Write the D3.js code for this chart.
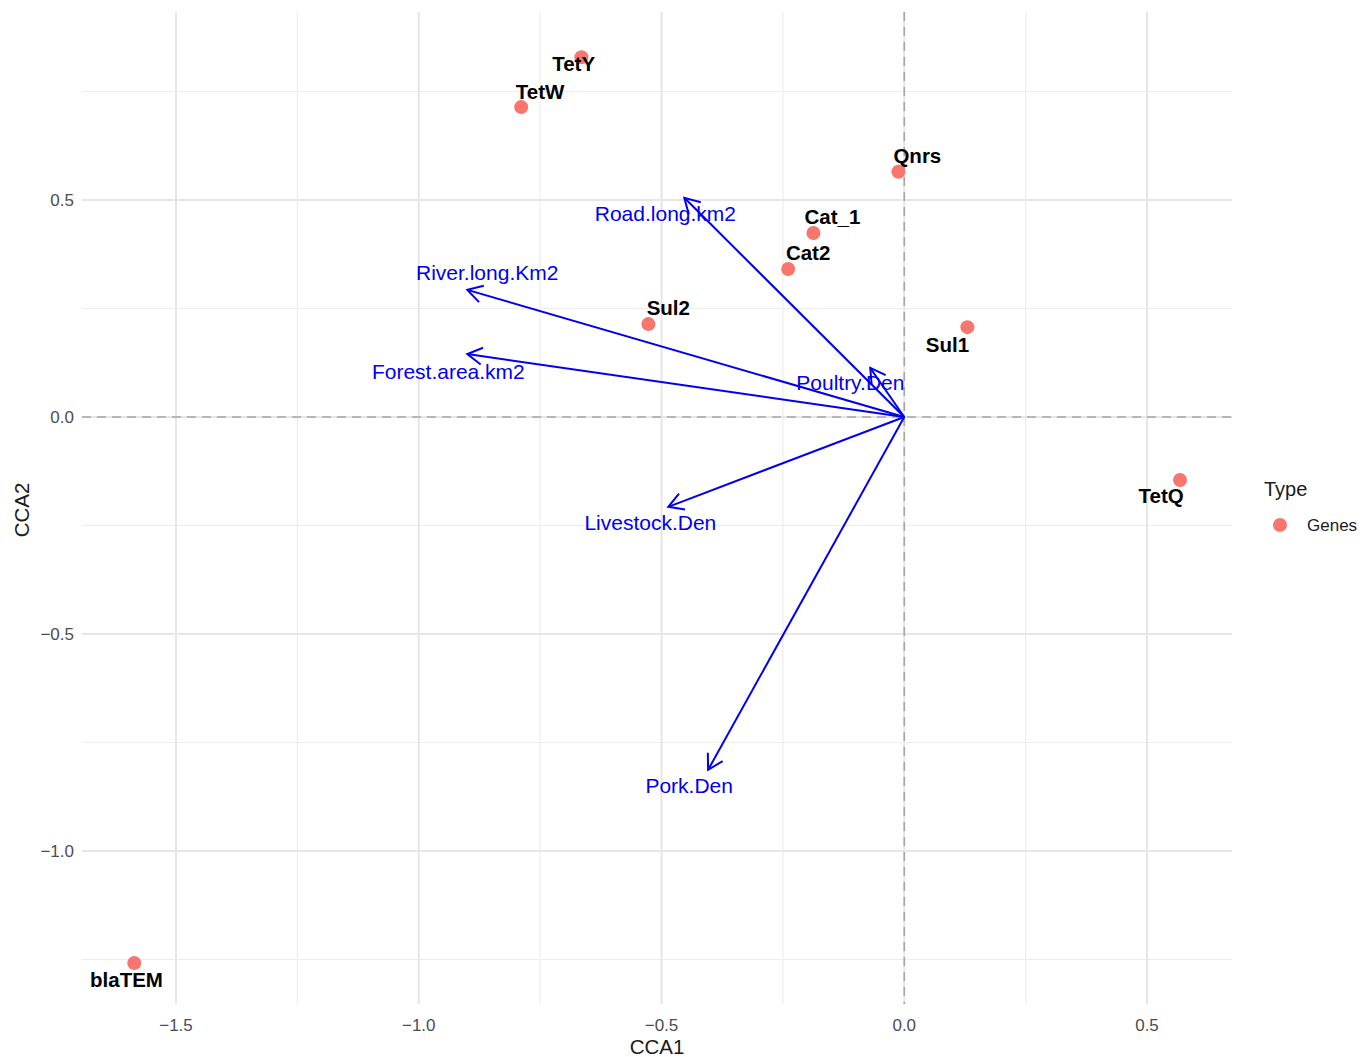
<!DOCTYPE html>
<html>
<head>
<meta charset="utf-8">
<script src="https://cdn.jsdelivr.net/npm/d3@7"></script>
<style>
  body { margin: 0; background: #fff; }
  text { font-family: "Liberation Sans", Arial, sans-serif; }
</style>
</head>
<body>
<svg id="chart" width="1370" height="1057"></svg>
<script>
"use strict";

// gene scores (CCA1, CCA2)
const genes = ['TetY', 'TetW', 'Qnrs', 'Cat_1', 'Cat2', 'Sul2', 'Sul1', 'TetQ', 'blaTEM'];
const geneCCA1 = [-0.665, -0.789, -0.012, -0.187, -0.239, -0.527, 0.130, 0.568, -1.586];
const geneCCA2 = [0.829, 0.714, 0.565, 0.424, 0.341, 0.214, 0.207, -0.145, -1.258];
// label nudges in data units (as ggplot nudge_x / nudge_y)
const geneNudgeX = [-0.016, 0.039, 0.039, 0.039, 0.041, 0.041, -0.041, -0.039, -0.016];
const geneNudgeY = [-0.016, 0.035, 0.037, 0.037, 0.037, 0.037, -0.041, -0.037, -0.039];

// environmental vectors
const envVars = ['Road.long.km2', 'River.long.Km2', 'Forest.area.km2', 'Poultry.Den', 'Livestock.Den', 'Pork.Den'];
const envCCA1 = [-0.453, -0.900, -0.900, -0.070, -0.486, -0.404];
const envCCA2 = [0.505, 0.293, 0.145, 0.113, -0.207, -0.813];
const envNudgeX = [-0.039, 0.041, -0.039, -0.041, -0.037, -0.039];
const envNudgeY = [-0.037, 0.039, -0.041, -0.035, -0.037, -0.037];

const xMajor = [-1.5, -1.0, -0.5, 0.0, 0.5];
const xMinor = [-1.25, -0.75, -0.25, 0.25];
const yMajor = [0.5, 0.0, -0.5, -1.0];
const yMinor = [0.75, 0.25, -0.25, -0.75, -1.25];

const svg = d3.select('#chart');
const panel = { left: 82, right: 1232, top: 12, bottom: 1004 };

const x = d3.scaleLinear().domain([-1.5, 0.5]).range([176, 1147]);
const y = d3.scaleLinear().domain([0.5, -1.0]).range([200, 851]);

const grid = svg.append('g');
grid.selectAll('.vminor').data(xMinor).join('line')
  .attr('x1', d => x(d)).attr('x2', d => x(d))
  .attr('y1', panel.top).attr('y2', panel.bottom)
  .attr('stroke', '#ededed').attr('stroke-width', 1.2);
grid.selectAll('.hminor').data(yMinor).join('line')
  .attr('y1', d => y(d)).attr('y2', d => y(d))
  .attr('x1', panel.left).attr('x2', panel.right)
  .attr('stroke', '#ededed').attr('stroke-width', 1.2);
grid.selectAll('.vmajor').data(xMajor).join('line')
  .attr('x1', d => x(d)).attr('x2', d => x(d))
  .attr('y1', panel.top).attr('y2', panel.bottom)
  .attr('stroke', '#e6e6e6').attr('stroke-width', 2);
grid.selectAll('.hmajor').data(yMajor).join('line')
  .attr('y1', d => y(d)).attr('y2', d => y(d))
  .attr('x1', panel.left).attr('x2', panel.right)
  .attr('stroke', '#e6e6e6').attr('stroke-width', 2);

// dashed zero lines
svg.append('line')
  .attr('x1', x(0)).attr('x2', x(0)).attr('y1', panel.top).attr('y2', panel.bottom)
  .attr('stroke', '#a6a6a6').attr('stroke-width', 1.6).attr('stroke-dasharray', '9,6');
svg.append('line')
  .attr('y1', y(0)).attr('y2', y(0)).attr('x1', panel.left).attr('x2', panel.right)
  .attr('stroke', '#a6a6a6').attr('stroke-width', 1.6).attr('stroke-dasharray', '9,6');

// tick labels
const fmt = d3.format('.1f');
const minus = (d) => fmt(d).replace('-', '\u2212');
svg.append('g').selectAll('text').data(xMajor).join('text')
  .attr('x', d => x(d)).attr('y', 1031)
  .attr('text-anchor', 'middle').attr('font-size', 17).attr('fill', '#4d4d4d')
  .text(minus);
svg.append('g').selectAll('text').data(yMajor).join('text')
  .attr('x', 74).attr('y', d => y(d)).attr('dy', '0.35em')
  .attr('text-anchor', 'end').attr('font-size', 17).attr('fill', '#4d4d4d')
  .text(minus);

// axis titles
svg.append('text').attr('x', 657).attr('y', 1054)
  .attr('text-anchor', 'middle').attr('font-size', 20.5).attr('fill', '#1a1a1a').text('CCA1');
svg.append('text').attr('transform', 'translate(29,510) rotate(-90)')
  .attr('text-anchor', 'middle').attr('font-size', 20.5).attr('fill', '#1a1a1a').text('CCA2');

// arrows
const blue = '#0000ee';
const arrows = svg.append('g');
envVars.forEach((name, i) => {
  let x0 = x(0), y0 = y(0), x1 = x(envCCA1[i]), y1 = y(envCCA2[i]);
  let ang = Math.atan2(y1 - y0, x1 - x0);
  let len = 17, spread = Math.PI / 6;
  arrows.append('line')
    .attr('x1', x0).attr('y1', y0).attr('x2', x1).attr('y2', y1)
    .attr('stroke', blue).attr('stroke-width', 2);
  let p = [
    [x1 - len * Math.cos(ang - spread), y1 - len * Math.sin(ang - spread)],
    [x1, y1],
    [x1 - len * Math.cos(ang + spread), y1 - len * Math.sin(ang + spread)]
  ];
  arrows.append('path')
    .attr('d', d3.line()(p))
    .attr('fill', 'none').attr('stroke', blue).attr('stroke-width', 2)
    .attr('stroke-linejoin', 'miter');
  arrows.append('text')
    .attr('x', x(envCCA1[i] + envNudgeX[i])).attr('y', y(envCCA2[i] + envNudgeY[i]))
    .attr('dy', '0.35em').attr('text-anchor', 'middle')
    .attr('font-size', 21).attr('fill', blue)
    .text(name);
});

// points
const pts = svg.append('g');
genes.forEach((g, i) => {
  pts.append('circle')
    .attr('cx', x(geneCCA1[i])).attr('cy', y(geneCCA2[i])).attr('r', 7)
    .attr('fill', '#F8766D');
});
genes.forEach((g, i) => {
  pts.append('text')
    .attr('x', x(geneCCA1[i] + geneNudgeX[i])).attr('y', y(geneCCA2[i] + geneNudgeY[i]))
    .attr('dy', '0.35em').attr('text-anchor', 'middle')
    .attr('font-size', 20.5).attr('font-weight', 'bold').attr('fill', '#000')
    .text(g);
});

// legend
const legend = svg.append('g');
legend.append('text').attr('x', 1264).attr('y', 489).attr('dy', '0.35em')
  .attr('font-size', 20).attr('fill', '#1a1a1a').text('Type');
legend.append('circle').attr('cx', 1280).attr('cy', 525).attr('r', 7).attr('fill', '#F8766D');
legend.append('text').attr('x', 1307).attr('y', 525).attr('dy', '0.35em')
  .attr('font-size', 17).attr('fill', '#1a1a1a').text('Genes');
</script>
</body>
</html>
